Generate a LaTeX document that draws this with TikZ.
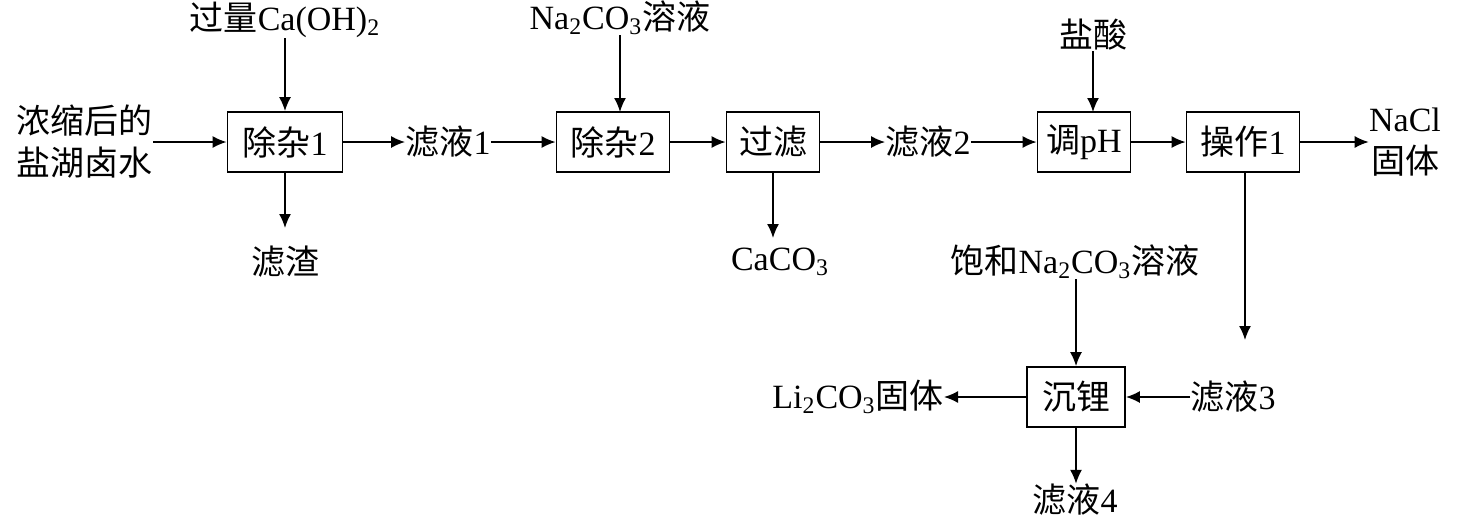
\documentclass[tikz,border=0pt]{standalone}
\usepackage{fontspec}
\setmainfont{Liberation Serif}
\newfontfamily\cjk{Noto Sans CJK SC}
\usetikzlibrary{arrows.meta}
\newcommand{\zh}[1]{{\cjk #1}}
\begin{document}
\begin{tikzpicture}[x=0.5pt,y=-0.5pt,
  every node/.style={font=\fontsize{17}{19}\selectfont},
  box/.style={draw,line width=0.9pt,minimum width=#1*0.5pt,minimum height=30pt,inner sep=0pt},
  txt/.style={inner sep=0pt,align=center},
  ar/.style={line width=0.8pt,-{Latex[length=7pt,width=6pt]}}]
\useasboundingbox (0,0) rectangle (1457,521);
\node[box=115] (b1) at (285,142) {\zh{除杂}1};
\node[box=113] (b2) at (613,142) {\zh{除杂}2};
\node[box=93] (b3) at (773,142) {\zh{过滤}};
\node[box=93] (b4) at (1084,142) {\zh{调}pH};
\node[box=113] (b5) at (1243,142) {\zh{操作}1};
\node[box=98] (b6) at (1076,397) {\zh{沉锂}};
\node[txt] (in) at (85,142) {\zh{浓缩后的}\\[2pt]\zh{盐湖卤水}};
\node[txt] (ca) at (285,20) {\zh{过量}Ca(OH)\textsubscript{2}};
\node[txt] (zz) at (285,262) {\zh{滤渣}};
\node[txt] (l1) at (448,142) {\zh{滤液}1};
\node[txt] (na) at (620,18) {Na\textsubscript{2}CO\textsubscript{3}\zh{溶液}};
\node[txt] (cc) at (780,262) {CaCO\textsubscript{3}};
\node[txt] (l2) at (928,142) {\zh{滤液}2};
\node[txt] (hcl) at (1093,35) {\zh{盐酸}};
\node[txt] (nacl) at (1405,142) {NaCl\\[2pt]\zh{固体}};
\node[txt] (bh) at (1075,262) {\zh{饱和}Na\textsubscript{2}CO\textsubscript{3}\zh{溶液}};
\node[txt] (l3) at (1233,397) {\zh{滤液}3};
\node[txt] (li) at (858,397) {Li\textsubscript{2}CO\textsubscript{3}\zh{固体}};
\node[txt] (l4) at (1075,500) {\zh{滤液}4};
\coordinate (c5) at (1245,340);
\draw[ar] (in.east) -- (b1);
\draw[ar] (ca) -- (b1);
\draw[ar] (b1) -- (285,228);
\draw[ar] (b1) -- (l1.west);
\draw[ar] (l1) -- (b2);
\draw[ar] (na.south -| 620,0) -- (620,112);
\draw[ar] (b2) -- (b3);
\draw[ar] (b3) -- (773,238);
\draw[ar] (b3) -- (l2.west);
\draw[ar] (l2) -- (b4);
\draw[ar] (hcl) -- (1093,112);
\draw[ar] (b4) -- (b5);
\draw[ar] (b5) -- (nacl.west);
\draw[ar] (1245,172) -- (c5);
\draw[ar] (l3) -- (b6);
\draw[ar] (bh.south -| b6) -- (b6);
\draw[ar] (b6) -- (li);
\draw[ar] (b6) -- (b6 |- l4.north);
\end{tikzpicture}
\end{document}
